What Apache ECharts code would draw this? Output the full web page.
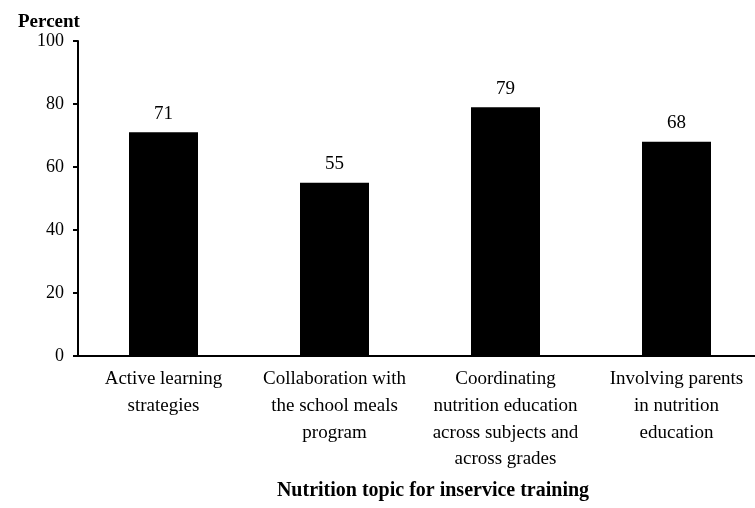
<!DOCTYPE html>
<html>
<head>
<meta charset="utf-8">
<script src="https://cdn.jsdelivr.net/npm/echarts@6/dist/echarts.min.js"></script>
<style>
  html, body { margin: 0; padding: 0; background: #fff; overflow: hidden; }
  /* the original's x axis runs a few pixels past the right edge */
  #chart { width: 762px; height: 508px; }
</style>
</head>
<body>
<div id="chart"></div>
<script>
const topics = [
  'Active learning\nstrategies',
  'Collaboration with\nthe school meals\nprogram',
  'Coordinating\nnutrition education\nacross subjects and\nacross grades',
  'Involving parents\nin nutrition\neducation'
];
const percents = [71, 55, 79, 68];
const yTicks = [0, 20, 40, 60, 80, 100];

const serif = '"Liberation Serif", "Times New Roman", serif';
const chart = echarts.init(document.getElementById('chart'));

chart.setOption({
  animation: false,
  title: [
    {
      text: 'Percent',
      left: 13,
      top: 8,
      textStyle: { fontFamily: serif, fontSize: 19, fontWeight: 'bold', color: '#000' }
    },
    {
      text: 'Nutrition topic for inservice training',
      left: 428,
      top: 476,
      textAlign: 'center',
      textStyle: { fontFamily: serif, fontSize: 20, fontWeight: 'bold', color: '#000' }
    }
  ],
  grid: { left: 78, width: 684, top: 41, bottom: 152 },
  xAxis: {
    type: 'category',
    data: topics,
    axisLine: { lineStyle: { color: '#000', width: 2 } },
    axisTick: { show: false },
    axisLabel: {
      fontFamily: serif,
      fontSize: 19,
      color: '#000',
      lineHeight: 26.7,
      margin: 10,
      interval: 0
    }
  },
  yAxis: {
    type: 'value',
    min: yTicks[0],
    max: yTicks[yTicks.length - 1],
    interval: 20,
    splitLine: { show: false },
    axisLine: { show: true, lineStyle: { color: '#000', width: 2 } },
    axisTick: { show: true, length: 5, lineStyle: { color: '#000', width: 2 } },
    axisLabel: {
      fontFamily: serif,
      fontSize: 18,
      color: '#000',
      margin: 14,
      padding: [7, 0, 0, 0]
    }
  },
  series: [
    {
      type: 'bar',
      data: percents,
      barWidth: 69,
      itemStyle: { color: '#000' },
      label: {
        show: true,
        position: 'top',
        distance: 9,
        fontFamily: serif,
        fontSize: 19,
        color: '#000'
      }
    }
  ]
});
</script>
</body>
</html>
